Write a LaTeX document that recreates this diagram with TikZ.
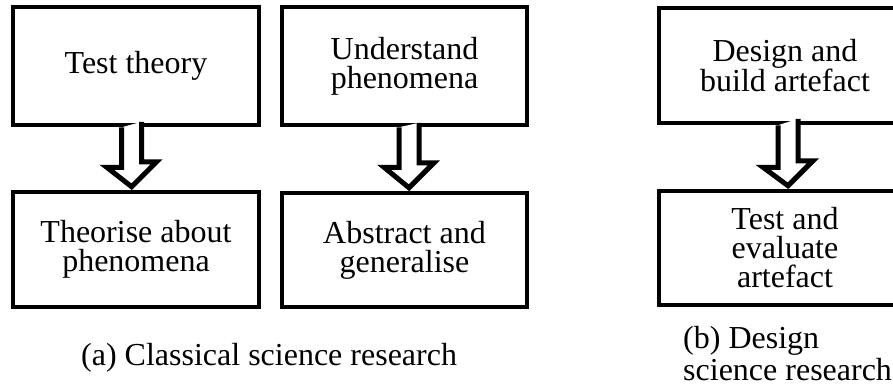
\documentclass[tikz,border=0pt]{standalone}
\usepackage{fontspec}
\setmainfont{Liberation Serif}
\usetikzlibrary{calc}
\begin{document}
\begin{tikzpicture}[x=1pt,y=-1pt,
  box/.style={draw=black, line width=4.5pt, inner sep=0pt, align=center,
    font=\fontsize{32}{29}\selectfont},
  hollow/.style={draw=black, line width=5pt, line join=miter, fill=white},
  capt/.style={inner sep=0pt, align=left, font=\fontsize{32}{32}\selectfont}]
\clip (0,0) rectangle (893,389);
\useasboundingbox (0,0) rectangle (893,389);
% boxes
\node[box, minimum width=246pt, minimum height=118pt] (t1) at (136,66) {Test theory};
\node[box, minimum width=245pt, minimum height=118pt] (t2) at (404.5,66) {Understand\\phenomena};
\node[box, minimum width=246pt, minimum height=115pt] (b1) at (136,249.5) {Theorise about\\phenomena};
\node[box, minimum width=245pt, minimum height=114pt] (b2) at (404.5,250) {Abstract and\\generalise};
\node[box, minimum width=252pt, minimum height=115pt] (t3) at (785,65.5) {Design and\\build artefact};
\node[box, minimum width=252pt, minimum height=114pt] (b3) at (785,248) {Test and\\evaluate\\artefact};
% hollow arrows
\draw[hollow] ([xshift=-14.3pt]t1.south) -- ++(0,40) -- ++(-15,0)
  -- ([xshift=-4.3pt,yshift=3pt]b1.north) -- ++(25,-25) -- ++(-15,0) -- ++(0,-40);
\draw[hollow] ([xshift=-5.5pt]t2.south) -- ++(0,40) -- ++(-15,0)
  -- ([xshift=4.5pt,yshift=3pt]b2.north) -- ++(25,-25) -- ++(-15,0) -- ++(0,-40);
\draw[hollow] ([xshift=-7pt]t3.south) -- ++(0,42) -- ++(-15,0)
  -- ([xshift=3pt,yshift=3pt]b3.north) -- ++(25,-25) -- ++(-15,0) -- ++(0,-42);
% captions
\node[capt, anchor=base west] (ca) at (81,365) {(a) Classical science research};
\node[capt, anchor=base west] (cb) at (683,380) {(b) Design\\science research};
\end{tikzpicture}
\end{document}
